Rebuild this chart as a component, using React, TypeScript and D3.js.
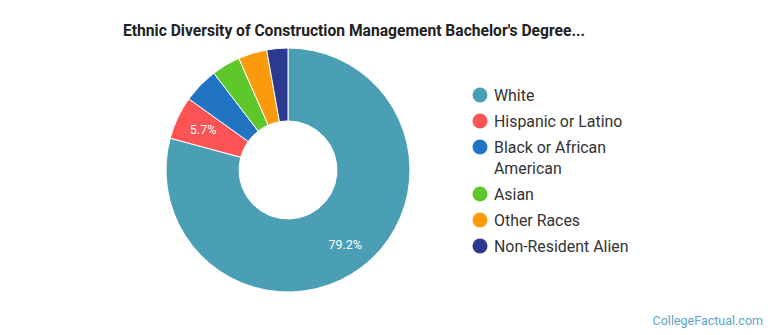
import React from "react";
import * as d3 from "d3";

const categories = ["White", "Hispanic or Latino", "Black or African American", "Asian", "Other Races", "Non-Resident Alien"];
const legendLines = [["White"], ["Hispanic or Latino"], ["Black or African", "American"], ["Asian"], ["Other Races"], ["Non-Resident Alien"]];
const values = [79.2, 5.7, 4.7, 3.8, 3.8, 2.8];
const colors = ["#4a9fb5", "#fc5454", "#2174c1", "#5ec82b", "#fb9a0c", "#2b398f"];
const labelShown = [true, true, false, false, false, false];

export default function App() {
  const W = 770, H = 335;
  const cx = 288, cy = 170, rOuter = 122, rInner = 49;
  const pie = d3.pie<number>().sort(null).value((d) => d)(values);
  const arc = d3.arc<d3.PieArcDatum<number>>().innerRadius(rInner).outerRadius(rOuter);
  const lx = 480, textX = 494;
  let y = 95;
  const legendItems = legendLines.map((lines, i) => {
    const item = { y, lines, i };
    y += 26 + (lines.length - 1) * 21;
    return item;
  });
  return (
    <svg width={W} height={H} style={{ position: "absolute", left: 0, top: 0, fontFamily: "Roboto, sans-serif" }}>
      <rect width={W} height={H} fill="#fff" />
      <text x={123} y={35.5} fontSize={17.3} fontWeight="bold" fill="#222" textLength={462} lengthAdjust="spacingAndGlyphs">
        Ethnic Diversity of Construction Management Bachelor's Degree...
      </text>
      <g transform={`translate(${cx},${cy})`}>
        {pie.map((p, i) => (
          <path key={i} d={arc(p) || ""} fill={colors[i]} stroke="#fff" strokeWidth={1} />
        ))}
        {pie.map((p, i) => {
          if (!labelShown[i]) return null;
          const a = (p.startAngle + p.endAngle) / 2;
          const r = 94;
          return (
            <text key={"l" + i} x={Math.sin(a) * r} y={-Math.cos(a) * r} dy="0.35em" textAnchor="middle" fontSize={12.5} fill="#fff">
              {values[i].toFixed(1)}%
            </text>
          );
        })}
      </g>
      {legendItems.map((it) => (
        <g key={it.i}>
          <circle cx={lx} cy={it.y} r={7.5} fill={colors[it.i]} />
          {it.lines.map((ln, k) => (
            <text key={k} x={textX} y={it.y + k * 21} dy="0.35em" fontSize={15.9} fill="#333">
              {ln}
            </text>
          ))}
        </g>
      ))}
      <text x={763} y={321} dy="0.35em" textAnchor="end" fontSize={12.5} fill="#5ba4c4">
        CollegeFactual.com
      </text>
    </svg>
  );
}
